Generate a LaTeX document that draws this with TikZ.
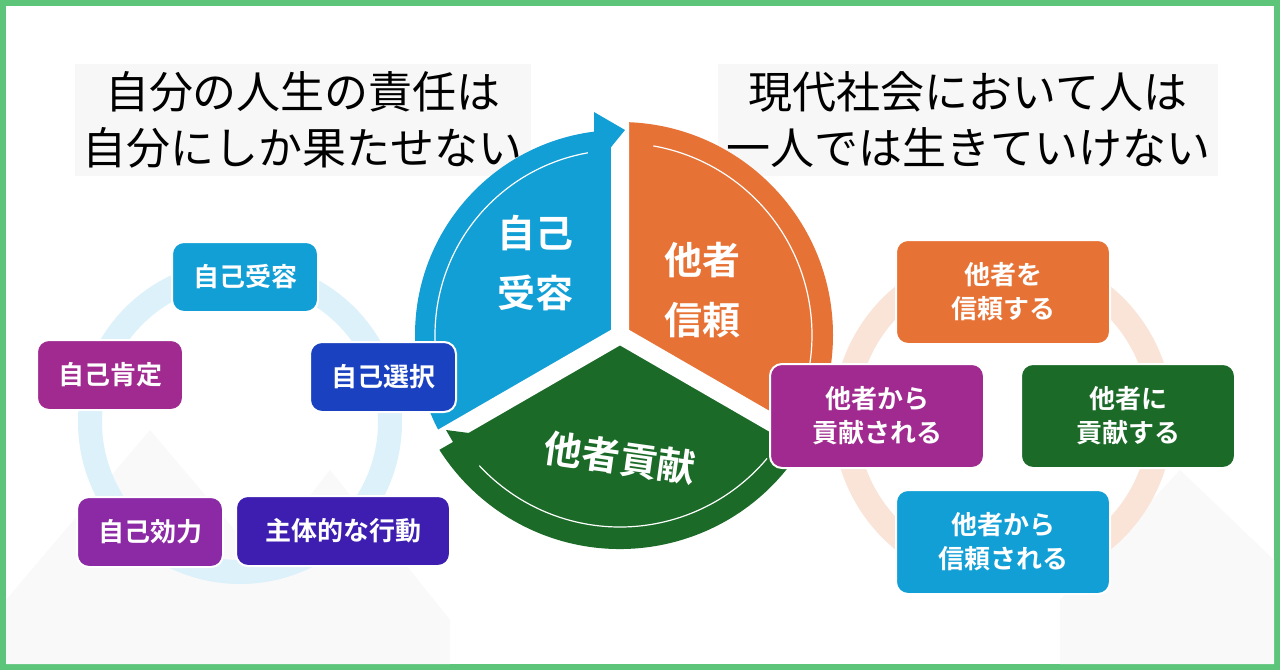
\documentclass[tikz,border=0pt]{standalone}
\usepackage{fontspec}
\newfontfamily\jp{Noto Sans CJK JP}
\newfontfamily\jpb{Noto Sans CJK JP Bold}
\definecolor{frame}{HTML}{5CC57A}
\definecolor{cblue}{HTML}{129FD5}
\definecolor{corange}{HTML}{E77235}
\definecolor{cgreen}{HTML}{1B6A28}
\definecolor{cpurple}{HTML}{A02A8F}
\definecolor{cpurple2}{HTML}{8C2AA6}
\definecolor{croyal}{HTML}{1A42C0}
\definecolor{cindigo}{HTML}{3D1EB0}
\begin{document}
\begin{tikzpicture}[x=0.5pt,y=-0.5pt,
  box/.style={rounded corners=6pt,draw=white,line width=1pt,text=white,font=\jpb\fontsize{13}{17}\selectfont,align=center,minimum height=35pt,inner sep=2pt},
  pie/.style={text=white,font=\jpb\fontsize{19}{30}\selectfont,align=center},
  title/.style={font=\jp\fontsize{22}{28}\selectfont,align=center,fill=gray!6,inner sep=4pt}]
\useasboundingbox (0,0) rectangle (1280,670);
\fill[white] (0,0) rectangle (1280,670);
\draw[frame,line width=3pt] (3,3) rectangle (1277,667);
% faint background mountains
\fill[gray!5] (6,600) -- (150,430) -- (260,560) -- (330,470) -- (450,620) -- (450,664) -- (6,664) -- cycle;
\fill[gray!5] (1060,600) -- (1180,470) -- (1274,560) -- (1274,664) -- (1060,664) -- cycle;
% cycle circles
\draw[cblue!15,line width=12pt] (240,422) circle[radius=150];
\draw[corange!20,line width=12pt] (1003,418) circle[radius=158];
% titles
\node[title] (t1) at (303,120) {自分の人生の責任は\\自分にしか果たせない};
\node[title] (t2) at (968,120) {現代社会において人は\\一人では生きていけない};
% pie
\coordinate (c) at (620,335);
\begin{scope}[shift={(620,335)},x=0.5pt,y=0.5pt]
\fill[corange] (0,0) -- (90:213) arc[start angle=90,end angle=-28,radius=213] -- cycle;
\fill[cgreen] (0,0) -- (-30:214) arc[start angle=-30,end angle=-150,radius=214] -- cycle;
\fill[cblue] (0,0) -- (90:205) arc[start angle=90,end angle=210,radius=205] -- cycle;
\draw[white,line width=0.6pt] (100:185) arc[start angle=100,end angle=200,radius=185];
\draw[white,line width=0.6pt] (80:192) arc[start angle=80,end angle=-25,radius=192];
\draw[white,line width=0.6pt] (-40:192) arc[start angle=-40,end angle=-145,radius=192];
\draw[white,line width=9pt] (0,0) -- (90:230) (0,0) -- (210:230) (0,0) -- (-30:230);
\end{scope}
% arrowheads
\fill[cblue] (594,112) -- (625,130) -- (594,168) -- cycle;
\fill[cgreen] (446,430) -- (492,436) -- (474,478) -- cycle;
\node[pie] (p1) at (535,263) {自己\\受容};
\node[pie] (p2) at (702,290) {他者\\信頼};
\node[pie,rotate=-8] (p3) at (620,458) {他者貢献};
% left boxes
\node[box,fill=cblue,minimum width=73pt] (a1) at (245,277) {自己受容};
\node[box,fill=cpurple,minimum width=73pt] (a2) at (110,375) {自己肯定};
\node[box,fill=croyal,minimum width=73pt] (a3) at (383,377) {自己選択};
\node[box,fill=cpurple2,minimum width=73pt] (a4) at (150,532) {自己効力};
\node[box,fill=cindigo,minimum width=107pt] (a5) at (343,531) {主体的な行動};
% right boxes
\node[box,fill=corange,minimum width=107pt,minimum height=52pt] (b1) at (1003,292) {他者を\\信頼する};
\node[box,fill=cgreen,minimum width=107pt,minimum height=52pt] (b2) at (1128,416) {他者に\\貢献する};
\node[box,fill=cpurple,minimum width=107pt,minimum height=52pt] (b3) at (877,416) {他者から\\貢献される};
\node[box,fill=cblue,minimum width=107pt,minimum height=52pt] (b4) at (1003,542) {他者から\\信頼される};
\end{tikzpicture}
\end{document}
